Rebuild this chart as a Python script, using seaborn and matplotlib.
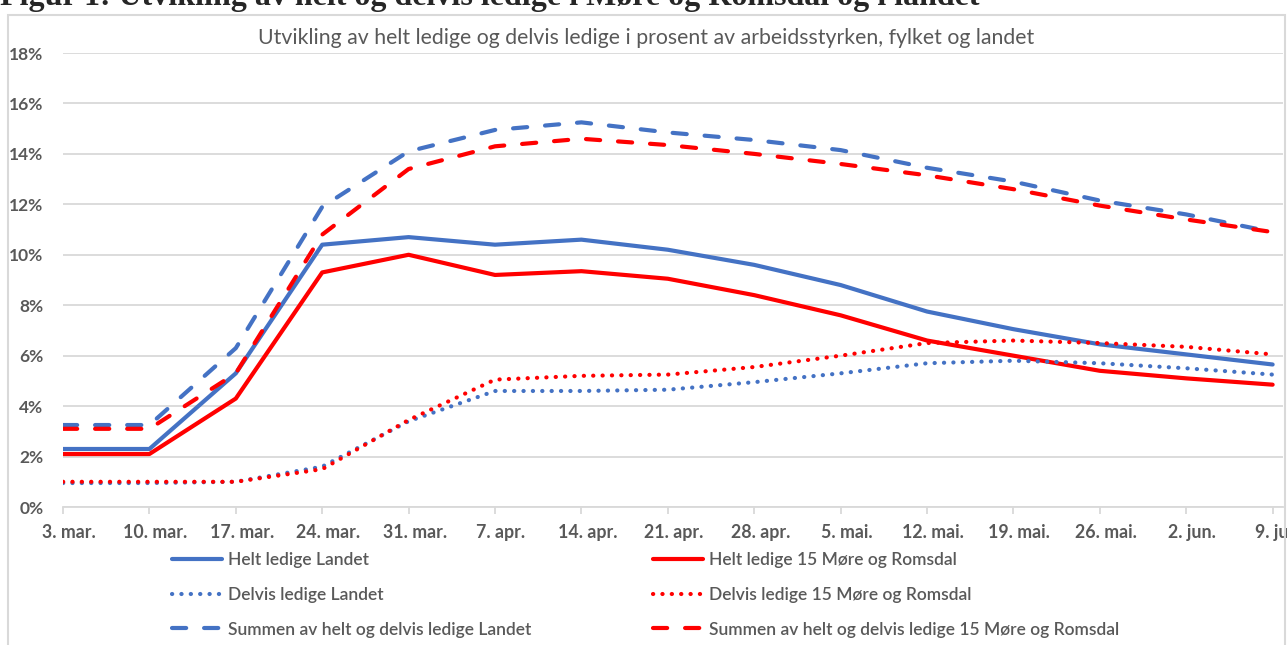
import numpy as np
import pandas as pd
import seaborn as sns
import matplotlib.pyplot as plt
from matplotlib.patches import Rectangle
from matplotlib.transforms import ScaledTranslation

# Data (prosent av arbeidsstyrken, ukentlig)
uker = ['3. mar.', '10. mar.', '17. mar.', '24. mar.', '31. mar.', '7. apr.', '14. apr.',
        '21. apr.', '28. apr.', '5. mai.', '12. mai.', '19. mai.', '26. mai.', '2. jun.', '9. jun.']

helt_landet = [2.3, 2.3, 5.3, 10.4, 10.7, 10.4, 10.6, 10.2, 9.6, 8.8, 7.75, 7.05, 6.45, 6.05, 5.65]
helt_mr = [2.1, 2.1, 4.3, 9.3, 10.0, 9.2, 9.35, 9.05, 8.4, 7.6, 6.6, 6.0, 5.4, 5.1, 4.85]
delvis_landet = [0.95, 0.95, 1.0, 1.6, 3.4, 4.6, 4.6, 4.65, 4.95, 5.3, 5.7, 5.8, 5.7, 5.5, 5.25]
delvis_mr = [1.0, 1.0, 1.0, 1.5, 3.45, 5.05, 5.2, 5.25, 5.55, 6.0, 6.5, 6.6, 6.5, 6.35, 6.05]
sum_landet = [3.25, 3.25, 6.3, 11.9, 14.1, 14.95, 15.25, 14.85, 14.55, 14.15, 13.45, 12.9, 12.15, 11.6, 10.9]
sum_mr = [3.1, 3.1, 5.3, 10.8, 13.4, 14.3, 14.6, 14.35, 14.0, 13.6, 13.15, 12.6, 11.95, 11.4, 10.9]

serier = ['Helt ledige Landet', 'Helt ledige 15 Møre og Romsdal',
          'Delvis ledige Landet', 'Delvis ledige 15 Møre og Romsdal',
          'Summen av helt og delvis ledige Landet', 'Summen av helt og delvis ledige 15 Møre og Romsdal']
verdier = [helt_landet, helt_mr, delvis_landet, delvis_mr, sum_landet, sum_mr]

blue = '#4472C4'
red = '#FF0000'
palette = dict(zip(serier, [blue, red, blue, red, blue, red]))
dot = (0.05, 2.2)
dash = (3.4, 4.3)
dashes = dict(zip(serier, ['', '', dot, dot, dash, dash]))

df = pd.DataFrame({
    'uke': np.tile(np.arange(len(uker)), len(serier)),
    'serie': np.repeat(serier, len(uker)),
    'verdi': np.concatenate(verdier),
})

grey_text = '#595959'
grid_col = '#D9D9D9'

sns.set_theme(style='white')
plt.rcParams['font.family'] = ['Lato', 'DejaVu Sans']

fig = plt.figure(figsize=(12.87, 6.45), dpi=100)
ax = fig.add_axes([63 / 1287, 1 - 507 / 645, 1220 / 1287, 454 / 645])

sns.lineplot(data=df, x='uke', y='verdi', hue='serie', style='serie',
             hue_order=serier, style_order=serier, palette=palette, dashes=dashes,
             linewidth=3, dash_capstyle='round', legend=False, ax=ax)

ax.set_xlim(0, 14.12)
ax.set_ylim(0, 18)
ax.set_yticks(range(0, 19, 2))
ax.set_yticklabels([f'{v}%' for v in range(0, 19, 2)])
ax.set_xticks(range(len(uker)))
ax.set_xticklabels(uker)
ax.set_xlabel('')
ax.set_ylabel('')
ax.grid(axis='y', color=grid_col, linewidth=1.3)
ax.set_axisbelow(True)
for s in ['top', 'right', 'left']:
    ax.spines[s].set_visible(False)
ax.spines['bottom'].set_color(grid_col)
ax.spines['bottom'].set_linewidth(1.3)
ax.tick_params(axis='y', length=0, pad=14, labelsize=12.5, labelcolor=grey_text)
ax.tick_params(axis='x', length=5, width=1.3, color=grid_col, direction='out', bottom=True,
               pad=7, labelsize=12.8, labelcolor=grey_text)
for lab in ax.get_xticklabels() + ax.get_yticklabels():
    lab.set_fontweight('bold')
# Excel setter datoetikettene litt til hoyre for merket
skift = ScaledTranslation(6 / 100, 0, fig.dpi_scale_trans)
for lab in ax.get_xticklabels():
    lab.set_transform(lab.get_transform() + skift)

# Ramme rundt diagrammet
fig.patches.append(Rectangle((8 / 1287, -0.02), 1277 / 1287, 1.02 - 15 / 645,
                             transform=fig.transFigure, fill=False,
                             edgecolor=grid_col, linewidth=1.5))

fig.text(0.0, 1 - 5 / 645, 'Figur 1: Utvikling av helt og delvis ledige i Møre og Romsdal og i landet',
         family='Liberation Serif', fontweight='bold', fontsize=23, ha='left', va='baseline')
fig.text(646 / 1287, 1 - 38 / 645,
         'Utvikling av helt ledige og delvis ledige i prosent av arbeidsstyrken, fylket og landet',
         fontsize=15.3, color=grey_text, ha='center', va='center')

lines = ax.get_lines()
venstre = [lines[0], lines[2], lines[4]]
hoyre = [lines[1], lines[3], lines[5]]
leg_kw = dict(frameon=False, handlelength=2.9, handletextpad=0.3,
              labelspacing=1.08, borderpad=0, borderaxespad=0, loc='upper left',
              labelcolor=grey_text, prop={'weight': 'semibold', 'size': 12.5})
leg1 = fig.legend(venstre, [serier[0], serier[2], serier[4]],
                  bbox_to_anchor=(172 / 1287, 1 - 552 / 645), **leg_kw)
leg2 = fig.legend(hoyre, [serier[1], serier[3], serier[5]],
                  bbox_to_anchor=(653 / 1287, 1 - 552 / 645), **leg_kw)

plt.savefig('out.png', dpi=100)
